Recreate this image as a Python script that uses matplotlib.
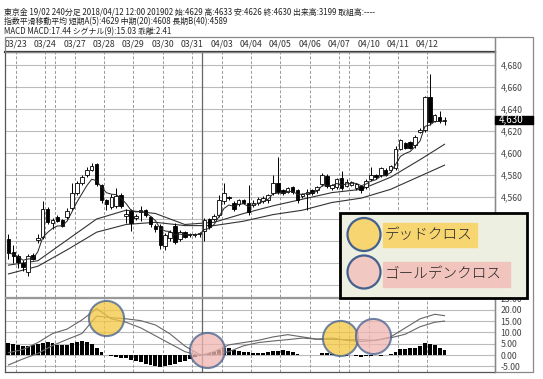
import matplotlib
matplotlib.use("Agg")
import matplotlib.pyplot as plt
import numpy as np
import pandas as pd
from matplotlib.patches import Rectangle, Ellipse

plt.rcParams['font.family'] = ['Noto Sans CJK JP', 'DejaVu Sans']

# 東京金 19/02 240分足 (bar 0 .. 89)
opens = [4522, 4510, 4506, 4500, 4492, 4507, 4521, 4524, 4549, 4536,
         4542, 4539, 4542, 4550, 4564, 4573, 4580, 4585, 4590, 4571,
         4557, 4551, 4552, 4562, 4543, 4547, 4541, 4546, 4548, 4542,
         4534, 4534, 4515, 4523, 4534, 4522, 4528, 4525, 4525, 4526,
         4529, 4540, 4540, 4544, 4556, 4560, 4555, 4554, 4557, 4555,
         4553, 4555, 4556, 4557, 4564, 4573, 4566, 4565, 4569, 4566,
         4561, 4563, 4566, 4566, 4572, 4579, 4568, 4569, 4577, 4570,
         4571, 4568, 4570, 4569, 4576, 4580, 4580, 4585, 4585, 4586,
         4604, 4609, 4610, 4607, 4619, 4621, 4651, 4629, 4633, 4629]
highs = [4526, 4516, 4508, 4503, 4508, 4509, 4526, 4556, 4551, 4541,
         4544, 4540, 4550, 4573, 4575, 4580, 4587, 4591, 4591, 4572,
         4558, 4563, 4568, 4564, 4549, 4549, 4545, 4552, 4549, 4543,
         4535, 4535, 4527, 4530, 4536, 4530, 4529, 4527, 4527, 4528,
         4541, 4541, 4545, 4562, 4573, 4561, 4556, 4558, 4558, 4571,
         4557, 4560, 4561, 4563, 4580, 4596, 4567, 4569, 4570, 4567,
         4564, 4567, 4567, 4570, 4582, 4581, 4572, 4577, 4584, 4576,
         4575, 4573, 4571, 4576, 4587, 4581, 4587, 4586, 4589, 4606,
         4613, 4610, 4611, 4616, 4623, 4652, 4672, 4636, 4638, 4633]
lows = [4504, 4500, 4495, 4493, 4488, 4503, 4518, 4522, 4535, 4531,
        4537, 4533, 4540, 4548, 4562, 4571, 4578, 4584, 4570, 4555,
        4548, 4549, 4550, 4550, 4536, 4529, 4539, 4538, 4542, 4533,
        4528, 4513, 4512, 4520, 4517, 4520, 4523, 4524, 4524, 4524,
        4520, 4531, 4538, 4542, 4554, 4557, 4547, 4552, 4554, 4544,
        4551, 4553, 4555, 4555, 4562, 4563, 4562, 4564, 4563, 4555,
        4559, 4548, 4562, 4564, 4570, 4568, 4566, 4567, 4566, 4569,
        4570, 4566, 4564, 4567, 4575, 4576, 4578, 4579, 4583, 4585,
        4603, 4604, 4604, 4605, 4618, 4619, 4626, 4628, 4627, 4626]
closes = [4509, 4506, 4501, 4496, 4506, 4504, 4523, 4549, 4537, 4539,
          4538, 4534, 4547, 4564, 4573, 4578, 4585, 4588, 4572, 4557,
          4554, 4560, 4561, 4552, 4545, 4536, 4543, 4548, 4544, 4535,
          4531, 4516, 4525, 4528, 4519, 4528, 4524, 4526, 4526, 4527,
          4539, 4533, 4543, 4557, 4564, 4559, 4549, 4557, 4555, 4546,
          4555, 4558, 4559, 4562, 4573, 4565, 4564, 4568, 4565, 4557,
          4563, 4565, 4564, 4569, 4580, 4570, 4571, 4576, 4568, 4574,
          4574, 4572, 4566, 4575, 4580, 4578, 4586, 4580, 4588, 4604,
          4612, 4605, 4605, 4615, 4621, 4651, 4628, 4635, 4629, 4630]

# 中期(20) / 長期B(40) every 6 bars
ma_bars = [0, 6, 12, 18, 24, 30, 36, 42, 48, 54, 60, 66, 72, 78, 84, 89]
ma20 = [4498, 4502, 4521, 4540, 4548, 4545, 4535, 4537, 4545, 4552,
        4558, 4564, 4567, 4578, 4594, 4608]
ma40 = [4490, 4497, 4512, 4528, 4535, 4537, 4534, 4534, 4538, 4544,
        4548, 4555, 4559, 4567, 4579, 4589]

# MACD / シグナル(9), read every 3 bars
macd_bars = [0, 3, 6, 9, 12, 15, 18, 21, 24, 27, 30, 33, 36, 39, 42, 45,
             48, 51, 54, 57, 60, 63, 66, 69, 72, 75, 78, 81, 84, 87, 89]
macd = [1.0, 2.5, 5.5, 9.5, 11.5, 15.5, 20.5, 16.0, 14.5, 12.0, 8.5, 5.0,
        1.5, -0.3, 1.5, 4.5, 5.5, 6.5, 8.0, 9.0, 8.0, 7.0, 7.5, 6.5, 6.0,
        6.5, 8.0, 12.0, 16.0, 18.0, 17.4]
signal = [-4.4, -1.7, 0.7, 4.2, 6.9, 9.5, 17.2, 16.5, 16.0, 15.2, 13.3, 9.3,
          4.0, 0.2, 0.0, 1.5, 4.1, 5.5, 6.2, 6.8, 7.5, 7.0, 6.9, 6.8, 6.8,
          6.5, 7.6, 9.2, 12.5, 14.5, 15.0]
# 乖離 histogram, one per bar
hist = [5.5, 5.0, 4.5, 4.2, 4.0, 4.3, 4.8, 5.5, 5.7, 5.3,
        4.6, 4.3, 4.6, 5.3, 5.8, 6.0, 5.8, 5.0, 3.3, 1.5,
        0.0, -0.5, -1.0, -1.2, -1.5, -2.0, -2.5, -3.2, -3.8, -4.2,
        -4.8, -5.5, -5.0, -4.3, -3.8, -3.0, -2.5, -1.8, -1.0, -0.5,
        0.5, 1.0, 1.5, 2.2, 3.2, 3.0, 2.4, 2.0, 1.4, 1.2,
        1.0, 1.0, 1.1, 1.2, 1.8, 2.0, 2.3, 2.0, 1.3, 0.6,
        0.2, 0.0, 0.0, 0.0, 0.8, 1.0, 0.6, 0.2, -0.2, -0.3,
        0.0, -0.5, -0.8, -0.6, -0.3, 0.0, -0.3, -0.2, 0.4, 1.5,
        2.5, 2.8, 3.0, 3.2, 3.8, 5.2, 5.0, 4.3, 3.3, 2.4]

dates = ['03/23', '03/24', '03/27', '03/28', '03/29', '03/30', '03/31', '04/03',
         '04/04', '04/05', '04/06', '04/07', '04/10', '04/11', '04/12']

# cross markers on the MACD panel: (bar, value, kind)
crosses = [(20.0, 16.4, 'dead'), (40.5, 2.2, 'golden'),
           (67.7, 7.6, 'dead'), (74.5, 8.5, 'golden')]

W, H = 543, 379
def fx(px):
    return px / W
def fy(py):
    return 1 - py / H

yellow = '#F4C842'
pink = '#F0B6B1'
ring = '#44608F'

fig = plt.figure(figsize=(W / 100, H / 100), dpi=100)
ax = fig.add_axes([fx(5), fy(297), 490 / W, 245 / H])
ax2 = fig.add_axes([fx(5), fy(372), 490 / W, 74 / H])

n = len(closes)
x = np.arange(n)
o = np.array(opens); c = np.array(closes)
date_pos = 1.5 + 6 * np.arange(len(dates))

for a in (ax, ax2):
    a.set_xlim(-0.7, 99.3)
    for p in date_pos:
        a.axvline(p, color='#999999', lw=0.7, ls=(0, (3, 2)), zorder=1)
    for p in (9.5, 69.5):
        a.axvline(p, color='#999999', lw=0.7, ls=(0, (3, 2)), zorder=1)
    a.axvline(39.5, color='#666666', lw=0.9, zorder=1)
    a.yaxis.tick_right()
    a.tick_params(axis='y', length=0, pad=4, labelsize=6.3, colors='#444444')
    a.grid(axis='y', color='#BBBBBB', lw=0.8)
    a.set_axisbelow(True)
    for s in a.spines.values():
        s.set_color('#555555')
        s.set_linewidth(0.9)

# price panel
ax.set_ylim(4469, 4692)
ax.set_yticks(range(4480, 4700, 20))
ax.set_yticklabels([f'{v:,}' for v in range(4480, 4700, 20)])
ax.spines['top'].set_linewidth(1.6)
ax.spines['top'].set_color('#333333')
ax.spines['bottom'].set_color('#999999')
ax.xaxis.tick_top()
ax.set_xticks(date_pos)
ax.set_xticklabels(dates)
ax.tick_params(axis='x', length=0, pad=2.5, labelsize=6.3, colors='#333333')

ax.vlines(x, lows, highs, color='black', lw=0.7, zorder=3)
up = c >= o
body = np.maximum(np.abs(c - o), 0.8)
ax.bar(x, body, bottom=np.minimum(o, c), width=0.72,
       color=np.where(up, 'white', 'black'), edgecolor='black', lw=0.6, zorder=4)

ma5 = pd.Series(closes).ewm(span=5, adjust=False).mean()
ax.plot(x, ma5, color='#222222', lw=0.7, zorder=5)
ax.plot(ma_bars, ma20, color='#333333', lw=0.8, zorder=2)
ax.plot(ma_bars, ma40, color='#333333', lw=0.8, zorder=2)

# MACD panel
ax2.set_ylim(-7.5, 25.2)
ax2.set_yticks(range(-5, 30, 5))
ax2.set_yticklabels([f'{v:.2f}' for v in range(-5, 30, 5)])
ax2.set_xticks([])
ax2.spines['top'].set_color('#999999')
ax2.bar(x, hist, width=0.8, color='black', zorder=3)
ax2.plot(macd_bars, macd, color='#666666', lw=0.8, zorder=4)
ax2.plot(macd_bars, signal, color='#666666', lw=0.8, zorder=4)
for bx, by, kind in crosses:
    ax2.scatter([bx], [by], s=640, color=yellow if kind == 'dead' else pink,
                alpha=0.75, edgecolors=ring, linewidths=1.5, zorder=6, clip_on=False)

# frame pieces
fig.add_artist(Rectangle((fx(5), fy(52)), 490 / W, 15 / H, transform=fig.transFigure,
                         fill=False, edgecolor='#888888', lw=0.9))
fig.add_artist(Rectangle((fx(495), fy(372)), 38 / W, 335 / H, transform=fig.transFigure,
                         fill=False, edgecolor='#888888', lw=0.9))

# last price tag
fig.add_artist(Rectangle((fx(495), fy(124)), 38 / W, 8 / H, transform=fig.transFigure,
                         color='black', zorder=8))
fig.text(fx(499), fy(120), f'{closes[-1]:,}', color='white', fontsize=7,
         va='center', ha='left', zorder=9)

# header
hdr = ['東京金 19/02 240分足 2018/04/12 12:00 201902 始:4629 高:4633 安:4626 終:4630 出来高:3199 取組高:----',
       '指数平滑移動平均 短期A(5):4629 中期(20):4608 長期B(40):4589',
       'MACD MACD:17.44 シグナル(9):15.03 乖離:2.41']
for i, t in enumerate(hdr):
    fig.text(fx(4), fy(11.5 + 10.3 * i), t, fontsize=5.7, va='center', ha='left', color='#222222')

# legend box
fig.add_artist(Rectangle((fx(339.5), fy(297.5)), 187 / W, 85 / H, transform=fig.transFigure,
                         facecolor='#EDF0E0', edgecolor='black', lw=2, zorder=10))
fig.add_artist(Rectangle((fx(383), fy(246.5)), 94 / W, 23.5 / H, transform=fig.transFigure,
                         color='#F7D671', zorder=11))
fig.add_artist(Rectangle((fx(383), fy(286.5)), 127 / W, 25 / H, transform=fig.transFigure,
                         color='#F2C4BE', zorder=11))
fig.add_artist(Ellipse((fx(364), fy(234.5)), 33 / W, 33 / H, transform=fig.transFigure,
                       facecolor='#F7D671', edgecolor=ring, lw=1.6, zorder=11))
fig.add_artist(Ellipse((fx(364), fy(272)), 33 / W, 33 / H, transform=fig.transFigure,
                       facecolor='#F2C8C3', edgecolor=ring, lw=1.6, zorder=11))
fig.text(fx(385), fy(235), 'デッドクロス', fontsize=10.5, fontweight='light',
         va='center', ha='left', color='#222222', zorder=12)
fig.text(fx(385), fy(274), 'ゴールデンクロス', fontsize=10.5, fontweight='light',
         va='center', ha='left', color='#222222', zorder=12)

fig.savefig('out.png', dpi=100)
